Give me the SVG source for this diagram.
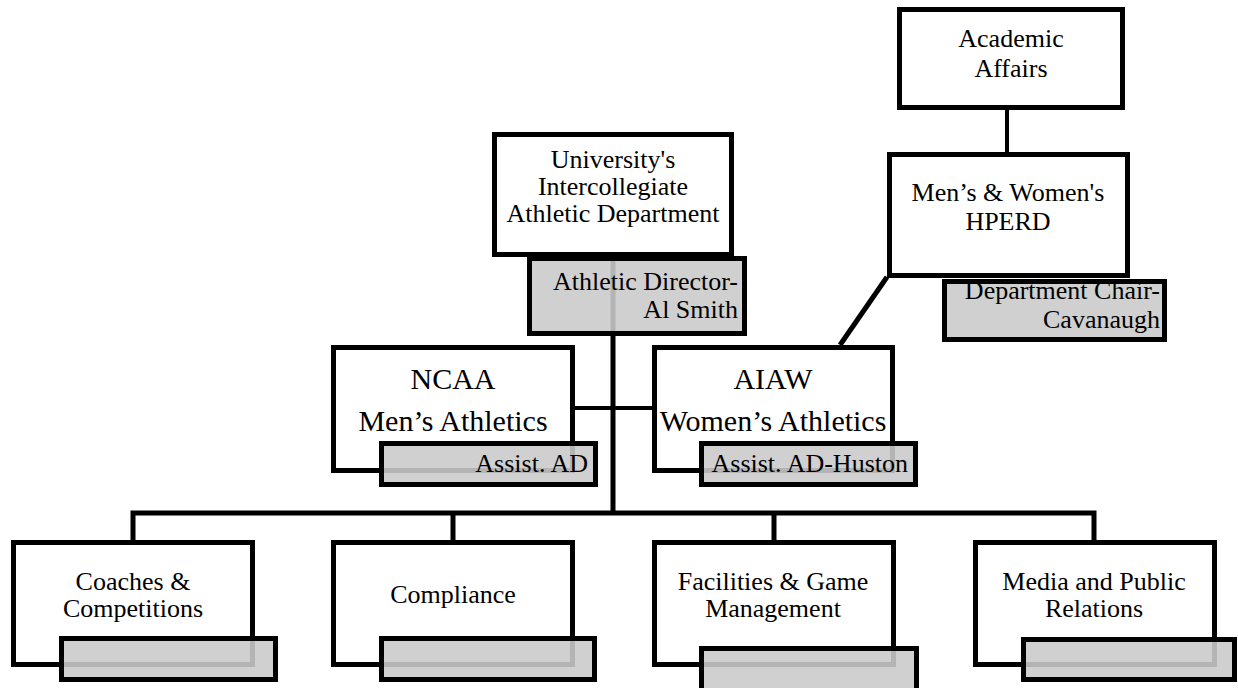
<svg xmlns="http://www.w3.org/2000/svg" width="1238" height="688" viewBox="0 0 1238 688">
<style>
.box{fill:#ffffff;stroke:#000;stroke-width:5}
.sub{fill:#cacaca;fill-opacity:0.89;stroke:#000;stroke-width:5}
.ln{fill:none;stroke:#000;stroke-width:5;stroke-linejoin:miter}
text{font-family:"Liberation Serif","Times New Roman",serif;font-size:26px;fill:#000}
.c{text-anchor:middle}
.r{text-anchor:end}
.big{font-size:30px}
</style>
<rect width="1238" height="688" fill="#fff"/>
<g id="connectors">
<line class="ln" x1="1007" y1="110" x2="1007" y2="152" style="stroke-width:4"/>
<line class="ln" x1="887" y1="277" x2="840" y2="345"/>
<line class="ln" x1="613" y1="257" x2="613" y2="513"/>
<line class="ln" x1="575" y1="408" x2="652" y2="408" style="stroke-width:4"/>
<path class="ln" d="M133,540 V513 H1094 V540"/>
<line class="ln" x1="453" y1="513" x2="453" y2="540"/>
<line class="ln" x1="774" y1="513" x2="774" y2="540"/>
</g>
<g id="academic-affairs">
<rect class="box" x="899.5" y="9.5" width="223" height="98"/>
<text class="c" x="1011" y="47">Academic</text>
<text class="c" x="1011" y="77">Affairs</text>
</g>
<g id="hperd">
<rect class="box" x="889.5" y="154.5" width="238" height="121"/>
<text class="c" x="1008" y="201">Men’s &amp; Women's</text>
<text class="c" x="1008" y="230">HPERD</text>
</g>
<g id="dept-chair">
<rect class="sub" x="944.5" y="281.5" width="220" height="58"/>
<text class="r" x="1160" y="299">Department Chair-</text>
<text class="r" x="1160" y="328">Cavanaugh</text>
</g>
<g id="university">
<rect class="box" x="494.5" y="134.5" width="237" height="120"/>
<text class="c" x="613" y="168">University's</text>
<text class="c" x="613" y="195">Intercollegiate</text>
<text class="c" x="613" y="222">Athletic Department</text>
</g>
<g id="athletic-director">
<rect class="sub" x="529.5" y="258.5" width="215" height="75"/>
<text class="r" x="738" y="290">Athletic Director-</text>
<text class="r" x="738" y="318">Al Smith</text>
</g>
<g id="ncaa">
<rect class="box" x="333.5" y="347.5" width="239" height="123"/>
<text class="c big" x="453" y="389">NCAA</text>
<text class="c big" x="453" y="431">Men’s Athletics</text>
</g>
<g id="assist-ad">
<rect class="sub" x="381.5" y="443.5" width="214" height="41"/>
<text class="r" x="588" y="472">Assist. AD</text>
</g>
<g id="aiaw">
<rect class="box" x="654.5" y="347.5" width="238" height="123"/>
<text class="c big" x="773" y="389">AIAW</text>
<text class="c big" x="773" y="431">Women’s Athletics</text>
</g>
<g id="assist-ad-huston">
<rect class="sub" x="701.5" y="443.5" width="214" height="41"/>
<text class="r" x="908" y="472">Assist. AD-Huston</text>
</g>
<g id="coaches">
<rect class="box" x="13.5" y="542.5" width="239" height="122"/>
<text class="c" x="133" y="590">Coaches &amp;</text>
<text class="c" x="133" y="617">Competitions</text>
<rect class="sub" x="61.5" y="638.5" width="214" height="41"/>
</g>
<g id="compliance">
<rect class="box" x="333.5" y="542.5" width="239" height="122"/>
<text class="c" x="453" y="603">Compliance</text>
<rect class="sub" x="381.5" y="638.5" width="213" height="41"/>
</g>
<g id="facilities">
<rect class="box" x="654.5" y="542.5" width="239" height="122"/>
<text class="c" x="773" y="590">Facilities &amp; Game</text>
<text class="c" x="773" y="617">Management</text>
<rect class="sub" x="701.5" y="648.5" width="215" height="43"/>
</g>
<g id="media">
<rect class="box" x="975.5" y="542.5" width="239" height="122"/>
<text class="c" x="1094" y="590">Media and Public</text>
<text class="c" x="1094" y="617">Relations</text>
<rect class="sub" x="1023.5" y="639.5" width="211" height="40"/>
</g>
</svg>
